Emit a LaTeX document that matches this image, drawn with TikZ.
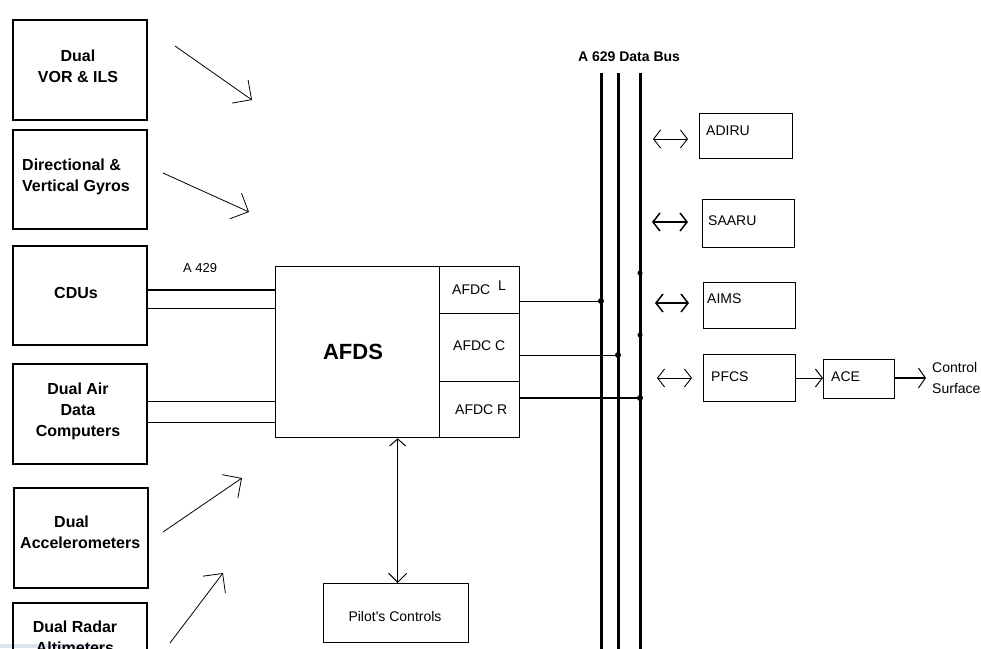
\documentclass[tikz,border=0pt]{standalone}
\usepackage{fontspec}
\setmainfont{Liberation Sans}
\usetikzlibrary{arrows.meta}
\definecolor{artifact}{RGB}{222,228,238}
\begin{document}
\begin{tikzpicture}[x=1pt,y=-1pt,
  lbox/.style={draw, line width=2pt, inner sep=0pt, anchor=north west},
  rbox/.style={draw, line width=1.3pt, inner sep=0pt, anchor=north west},
  boldlbl/.style={font=\bfseries\fontsize{16}{21}\selectfont, align=center, inner sep=0pt},
  lbl/.style={font=\fontsize{14}{21}\selectfont, inner sep=0pt, anchor=west},
  bigarrow/.style={line width=0.8pt, -{Straight Barb[length=14pt,width=28pt,line width=0.8pt]}},
  dblarrow/.style={line width=0.9pt, {Straight Barb[length=7pt,width=18pt]}-{Straight Barb[length=7pt,width=18pt]}},
  bus/.style={line width=3pt},
  conn/.style={line width=1pt},
  jdot/.style={fill, circle, inner sep=0pt, minimum size=6pt}
]
\useasboundingbox (0,0) rectangle (981,648);
\clip (0,0) rectangle (981,648);
\fill[white] (0,0) rectangle (981,648);
\fill[artifact] (0,644) rectangle (105,648);

% left boxes
\node[lbox, minimum width=134pt, minimum height=100pt] (vor) at (12,19) {};
\node[boldlbl] (vorT) at (78,66) {Dual\\VOR \& ILS};
\node[lbox, minimum width=134pt, minimum height=99pt] (gyro) at (12,129) {};
\node[boldlbl, align=left, anchor=west] (gyroT) at (22,177) {Directional \&\\Vertical Gyros};
\node[lbox, minimum width=134pt, minimum height=99pt] (cdu) at (12,245) {};
\node[boldlbl] (cduT) at (76,293) {CDUs};
\node[lbox, minimum width=134pt, minimum height=100pt] (adc) at (12,363) {};
\node[boldlbl] (adcT) at (78,411) {Dual Air\\Data\\Computers};
\node[lbox, minimum width=134pt, minimum height=100pt] (acc) at (13,487) {};
\node[boldlbl, align=left, anchor=west] (accT) at (20,532) {\hspace*{34pt}Dual\\Accelerometers};
\node[lbox, minimum width=134pt, minimum height=100pt] (rad) at (12,602) {};
\node[boldlbl] (radT) at (75,637) {Dual Radar\\Altimeters};

% big arrows
\coordinate (a1s) at (175,46); \coordinate (a1e) at (252,100);
\coordinate (a2s) at (163,173); \coordinate (a2e) at (249,212);
\coordinate (a3s) at (163,532); \coordinate (a3e) at (242,478);
\coordinate (a4s) at (170,643); \coordinate (a4e) at (223,573);
\draw[bigarrow] (a1s) -- (a1e);
\draw[bigarrow] (a2s) -- (a2e);
\draw[bigarrow] (a3s) -- (a3e);
\draw[bigarrow] (a4s) -- (a4e);

% AFDS
\node[draw, line width=1.3pt, inner sep=0pt, anchor=north west, minimum width=244pt, minimum height=171pt] (afds) at (275,266) {};
\node[font=\bfseries\fontsize{22}{26}\selectfont, inner sep=0pt] (afdsT) at (353,352) {AFDS};
\node[rbox, minimum width=80pt, minimum height=47pt] (afdcL) at (439,266) {};
\node[rbox, minimum width=80pt, minimum height=68pt] (afdcC) at (439,313) {};
\node[rbox, minimum width=80pt, minimum height=56pt] (afdcR) at (439,381) {};
\node[lbl] (afdcLT) at (452,290) {AFDC};
\node[lbl] (afdcLL) at (498,286) {L};
\node[lbl] (afdcCT) at (453,346) {AFDC C};
\node[lbl] (afdcRT) at (455,410) {AFDC R};

% inputs to AFDS
\draw[line width=2pt] (cdu.east |- 0,290) -- (afds.west |- 0,290);
\draw[conn] (cdu.east |- 0,308) -- (afds.west |- 0,308);
\node[lbl, font=\fontsize{13}{15}\selectfont] (a429) at (183,268) {A 429};
\draw[conn] (adc.east |- 0,401) -- (afds.west |- 0,401);
\draw[conn] (adc.east |- 0,422) -- (afds.west |- 0,422);

% data bus
\coordinate (b1t) at (601,73); \coordinate (b1b) at (601,652);
\coordinate (b2t) at (618,73); \coordinate (b2b) at (618,652);
\coordinate (b3t) at (640,73); \coordinate (b3b) at (640,652);
\draw[bus] (b1t) -- (b1b);
\draw[bus] (b2t) -- (b2b);
\draw[bus] (b3t) -- (b3b);
\node[font=\bfseries\fontsize{14}{16}\selectfont, inner sep=0pt] (busT) at (629,57) {A 629 Data Bus};

\draw[conn] (afdcL.east |- 0,301) -- (b1t |- 0,301);
\draw[conn] (afdcC.east |- 0,355) -- (b2t |- 0,355);
\draw[line width=2pt] (afdcR.east |- 0,398) -- (b3t |- 0,398);
\node[jdot] (j1) at (b1t |- 0,301) {};
\node[jdot] (j2) at (b2t |- 0,355) {};
\node[jdot] (j3) at (b3t |- 0,398) {};
\node[jdot, minimum size=5pt] (m1) at (b3t |- 0,273) {};
\node[jdot, minimum size=5pt] (m2) at (b3t |- 0,335) {};

% right boxes
\node[rbox, minimum width=93pt, minimum height=45pt] (adiru) at (699,113) {};
\node[lbl] (adiruT) at (706,131) {ADIRU};
\node[rbox, minimum width=92pt, minimum height=48pt] (saaru) at (702,199) {};
\node[lbl] (saaruT) at (708,221) {SAARU};
\node[rbox, minimum width=92pt, minimum height=46pt] (aims) at (703,282) {};
\node[lbl] (aimsT) at (707,299) {AIMS};
\node[rbox, minimum width=92pt, minimum height=47pt] (pfcs) at (703,354) {};
\node[lbl] (pfcsT) at (711,377) {PFCS};
\node[rbox, minimum width=71pt, minimum height=39pt] (ace) at (823,359) {};
\node[lbl] (aceT) at (831,377) {ACE};

\coordinate (d1a) at (653,139); \coordinate (d1b) at (688,139);
\coordinate (d2a) at (652,222); \coordinate (d2b) at (688,222);
\coordinate (d3a) at (655,303); \coordinate (d3b) at (689,303);
\coordinate (d4a) at (657,378); \coordinate (d4b) at (692,378);
\draw[dblarrow] (d1a) -- (d1b);
\draw[dblarrow, line width=1.5pt] (d2a) -- (d2b);
\draw[dblarrow, line width=1.5pt] (d3a) -- (d3b);
\draw[dblarrow] (d4a) -- (d4b);

\draw[conn, -{Straight Barb[length=7pt,width=18pt]}] (pfcs.east |- 0,378) -- (ace.west |- 0,378);
\coordinate (cs) at (926,378);
\draw[line width=2.5pt, -{Straight Barb[length=7pt,width=20pt,line width=1pt]}] (ace.east |- 0,378) -- (cs);
\node[lbl, align=left] (ctrl) at (932,378) {Control\\Surfaces};

% pilot's controls
\node[rbox, minimum width=145pt, minimum height=59pt] (pilot) at (323,583) {};
\node[font=\fontsize{14}{16}\selectfont, inner sep=0pt] (pilotT) at (395,616) {Pilot\textquotesingle s Controls};
\draw[conn, {Straight Barb[length=7pt,width=16pt]}-{Straight Barb[length=9pt,width=18pt]}] (afds.south) -- (afds.south |- pilot.north);
\end{tikzpicture}
\end{document}
